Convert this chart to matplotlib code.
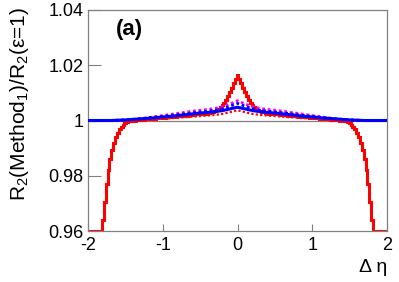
import numpy as np
import matplotlib
matplotlib.use("Agg")
import matplotlib.pyplot as plt

plt.rcParams['font.family'] = ['Liberation Sans', 'DejaVu Sans']
plt.rcParams['mathtext.fontset'] = 'custom'
plt.rcParams['mathtext.rm'] = 'Liberation Sans'
plt.rcParams['mathtext.it'] = 'Liberation Sans:italic'

# smooth curves, x = -2.0 .. 2.0 step 0.1
x_line = [round(-2.0 + 0.1 * i, 1) for i in range(41)]
magenta_dot = [1.0000, 1.0000, 1.0000, 1.0000, 1.0001, 1.0002, 1.0004, 1.0007, 1.0010, 1.0014,
               1.0018, 1.0022, 1.0026, 1.0030, 1.0034, 1.0037, 1.0040, 1.0044, 1.0050, 1.0060,
               1.0072,
               1.0060, 1.0050, 1.0044, 1.0040, 1.0037, 1.0034, 1.0030, 1.0026, 1.0022, 1.0018,
               1.0014, 1.0010, 1.0007, 1.0004, 1.0002, 1.0001, 1.0000, 1.0000, 1.0000, 1.0000]
blue_dot = [1.0000, 1.0000, 1.0000, 1.0000, 1.0001, 1.0002, 1.0004, 1.0006, 1.0009, 1.0012,
            1.0015, 1.0018, 1.0021, 1.0025, 1.0028, 1.0031, 1.0034, 1.0037, 1.0043, 1.0052,
            1.0062,
            1.0052, 1.0043, 1.0037, 1.0034, 1.0031, 1.0028, 1.0025, 1.0021, 1.0018, 1.0015,
            1.0012, 1.0009, 1.0006, 1.0004, 1.0002, 1.0001, 1.0000, 1.0000, 1.0000, 1.0000]
blue_solid = [1.0000, 1.0000, 1.0000, 1.0000, 1.0001, 1.0002, 1.0004, 1.0006, 1.0008, 1.0010,
              1.0013, 1.0015, 1.0018, 1.0021, 1.0024, 1.0027, 1.0029, 1.0032, 1.0036, 1.0042,
              1.0048,
              1.0042, 1.0036, 1.0032, 1.0029, 1.0027, 1.0024, 1.0021, 1.0018, 1.0015, 1.0013,
              1.0010, 1.0008, 1.0006, 1.0004, 1.0002, 1.0001, 1.0000, 1.0000, 1.0000, 1.0000]
red_dot = [1.0000, 1.0000, 1.0000, 1.0000, 1.0000, 1.0000, 1.0001, 1.0002, 1.0004, 1.0005,
           1.0007, 1.0008, 1.0010, 1.0012, 1.0014, 1.0016, 1.0018, 1.0020, 1.0024, 1.0030,
           1.0037,
           1.0030, 1.0024, 1.0020, 1.0018, 1.0016, 1.0014, 1.0012, 1.0010, 1.0008, 1.0007,
           1.0005, 1.0004, 1.0002, 1.0001, 1.0000, 1.0000, 1.0000, 1.0000, 1.0000, 1.0000]

# histogram (red solid): bin width 0.025, bins centred on k*0.025, k = -80..80
bin_width = 0.025
red_hist = [0.9600, 0.9600, 0.9600, 0.9600, 0.9600, 0.9600, 0.9600, 0.9600, 0.9640, 0.9705,
            0.9770, 0.9820, 0.9862, 0.9895, 0.9920, 0.9940, 0.9955, 0.9968, 0.9978, 0.9985,
            0.9990, 0.9994, 0.9997, 0.9998, 1.0000, 1.0000, 1.0001, 1.0001, 1.0002, 1.0002,
            1.0003, 1.0004, 1.0004, 1.0005, 1.0006, 1.0006, 1.0007, 1.0008, 1.0008, 1.0009,
            1.0010, 1.0010, 1.0011, 1.0012, 1.0012, 1.0013, 1.0014, 1.0014, 1.0015, 1.0016,
            1.0016, 1.0017, 1.0018, 1.0018, 1.0019, 1.0020, 1.0020, 1.0021, 1.0022, 1.0022,
            1.0023, 1.0024, 1.0024, 1.0025, 1.0026, 1.0027, 1.0029, 1.0031, 1.0034, 1.0038,
            1.0042, 1.0048, 1.0055, 1.0065, 1.0076, 1.0089, 1.0103, 1.0118, 1.0134, 1.0150,
            1.0165,
            1.0150, 1.0134, 1.0118, 1.0103, 1.0089, 1.0076, 1.0065, 1.0055, 1.0048, 1.0042,
            1.0038, 1.0034, 1.0031, 1.0029, 1.0027, 1.0026, 1.0025, 1.0024, 1.0024, 1.0023,
            1.0022, 1.0022, 1.0021, 1.0020, 1.0020, 1.0019, 1.0018, 1.0018, 1.0017, 1.0016,
            1.0016, 1.0015, 1.0014, 1.0014, 1.0013, 1.0012, 1.0012, 1.0011, 1.0010, 1.0010,
            1.0009, 1.0008, 1.0008, 1.0007, 1.0006, 1.0006, 1.0005, 1.0004, 1.0004, 1.0003,
            1.0002, 1.0002, 1.0001, 1.0001, 1.0000, 1.0000, 0.9998, 0.9997, 0.9994, 0.9990,
            0.9985, 0.9978, 0.9968, 0.9955, 0.9940, 0.9920, 0.9895, 0.9862, 0.9820, 0.9770,
            0.9705, 0.9640, 0.9600, 0.9600, 0.9600, 0.9600, 0.9600, 0.9600, 0.9600, 0.9600]

x_ticks = [-2, -1, 0, 1, 2]
x_tick_labels = ['-2', '-1', '0', '1', '2']
y_ticks = [0.96, 0.98, 1.0, 1.02, 1.04]
y_tick_labels = ['0.96', '0.98', '1', '1.02', '1.04']

W, H = 399, 282
fig = plt.figure(figsize=(W / 100, H / 100), dpi=100)
ax = fig.add_axes([88 / W, 1 - 231 / H, (387 - 88) / W, (231 - 10) / H])

ax.axhline(1.0, color='#808080', lw=0.9, zorder=1)

n = len(red_hist)
edges = (np.arange(n + 1) - (n // 2) - 0.5) * bin_width
ax.stairs(red_hist, edges, baseline=None, color='#ff0000', lw=2.2, zorder=2)

ax.plot(x_line, red_dot, color='#ff0000', lw=1.6, ls=(0, (1, 1)), zorder=3)
ax.plot(x_line, magenta_dot, color='#ff00ff', lw=2.0, ls=(0, (1, 1)), zorder=3)
ax.plot(x_line, blue_dot, color='#0000ff', lw=2.0, ls=(0, (1, 1)), zorder=4)
ax.plot(x_line, blue_solid, color='#0000ff', lw=2.2, zorder=5)

ax.set_xlim(-2, 2)
ax.set_ylim(0.96, 1.04)
ax.set_xticks(x_ticks)
ax.set_xticklabels(x_tick_labels)
ax.set_yticks(y_ticks)
ax.set_yticklabels(y_tick_labels)
ax.tick_params(axis='x', direction='in', length=5, width=0.8, color='#808080',
               labelsize=13, pad=4)
ax.tick_params(axis='y', direction='in', length=9, width=0.8, color='#808080',
               labelsize=13, pad=3.5)
for s in ax.spines.values():
    s.set_color('#808080')
    s.set_linewidth(0.9)

fig.text(20 / W, 1 - 7 / H, r'R$_2$(Method$_1$)/R$_2$(ε=1)', fontsize=15,
         rotation=90, ha='center', va='top')
fig.text(387 / W, 1 - 267 / H, 'Δ η', fontsize=14, ha='right', va='center')

fig.text(116 / W, 1 - 29 / H, '(a)', fontsize=16, fontweight='bold',
         ha='left', va='center')

fig.savefig('out.png', dpi=100)
